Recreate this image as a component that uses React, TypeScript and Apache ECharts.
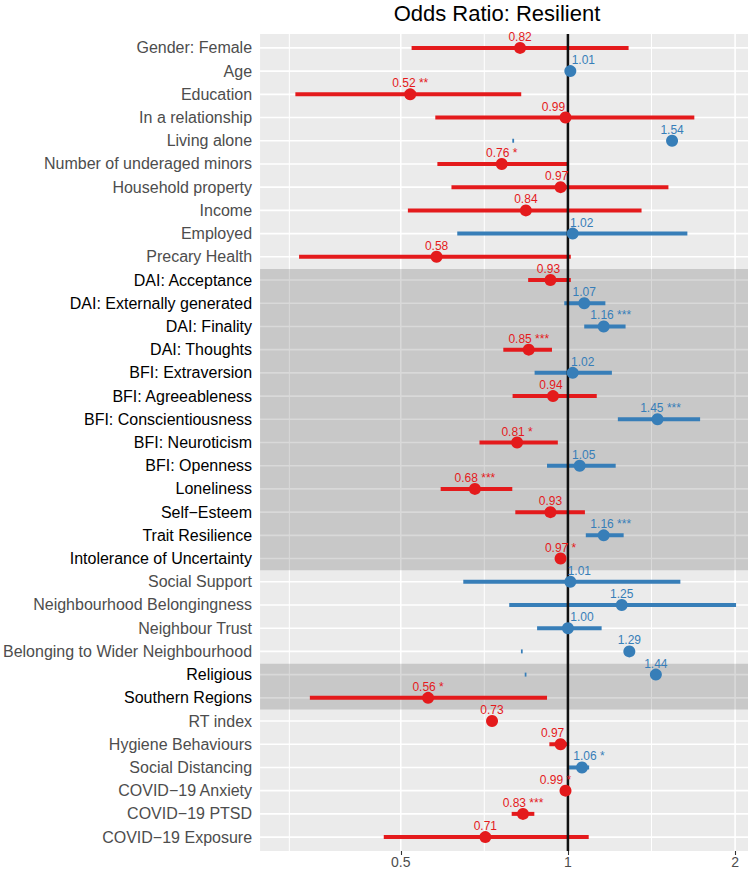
import React, { useEffect, useRef } from "react";
import * as echarts from "echarts";

// ---------------- data ----------------
const chartTitle = "Odds Ratio: Resilient";

const categories = [
  "Gender: Female",
  "Age",
  "Education",
  "In a relationship",
  "Living alone",
  "Number of underaged minors",
  "Household property",
  "Income",
  "Employed",
  "Precary Health",
  "DAI: Acceptance",
  "DAI: Externally generated",
  "DAI: Finality",
  "DAI: Thoughts",
  "BFI: Extraversion",
  "BFI: Agreeableness",
  "BFI: Conscientiousness",
  "BFI: Neuroticism",
  "BFI: Openness",
  "Loneliness",
  "Self\u2212Esteem",
  "Trait Resilience",
  "Intolerance of Uncertainty",
  "Social Support",
  "Neighbourhood Belongingness",
  "Neighbour Trust",
  "Belonging to Wider Neighbourhood",
  "Religious",
  "Southern Regions",
  "RT index",
  "Hygiene Behaviours",
  "Social Distancing",
  "COVID\u221219 Anxiety",
  "COVID\u221219 PTSD",
  "COVID\u221219 Exposure",
];

const estimates = [
  0.82, 1.01, 0.52, 0.99, 1.54, 0.76, 0.97, 0.84, 1.02, 0.58,
  0.93, 1.07, 1.16, 0.85, 1.02, 0.94, 1.45, 0.81, 1.05, 0.68,
  0.93, 1.16, 0.97, 1.01, 1.25, 1.0, 1.29, 1.44, 0.56, 0.73,
  0.97, 1.06, 0.99, 0.83, 0.71,
];

const ciLow = [
  0.523, 1.0, 0.323, 0.577, 0.794, 0.582, 0.617, 0.515, 0.632, 0.328,
  0.848, 0.985, 1.07, 0.765, 0.871, 0.795, 1.23, 0.693, 0.917, 0.59,
  0.804, 1.077, 0.95, 0.648, 0.784, 0.88, 0.823, 0.836, 0.343, 0.72,
  0.926, 1.005, 0.98, 0.792, 0.466,
];

const ciHigh = [
  1.286, 1.02, 0.824, 1.689, 0.8, 1.0, 1.517, 1.357, 1.641, 1.012,
  1.012, 1.168, 1.27, 0.936, 1.2, 1.127, 1.73, 0.959, 1.219, 0.794,
  1.073, 1.26, 0.99, 1.594, 2.008, 1.15, 0.829, 0.842, 0.917, 0.74,
  1.005, 1.092, 1.0, 0.87, 1.09,
];

const stars = [
  "", "", "**", "", "", "*", "", "", "", "",
  "", "", "***", "***", "", "", "***", "*", "", "***",
  "", "***", "*", "", "", "", "", "", "*", "",
  "", "*", "*", "***", "",
];

// highlighted row ranges (inclusive category indices)
const highlightBands = [
  [10, 22],
  [27, 28],
];

const xTickValues = [0.5, 1, 2];
const xMinorValues = [0.315, 0.707, 1.414];
const xRange = [0.279, 2.11];

// ---------------- styling ----------------
const RED = "#E41A1C";
const BLUE = "#377EB8";
const FONT = "'Liberation Sans', Arial, Helvetica, sans-serif";
// horizontal label shift in px (repelled from the reference line)
const labelNudge = [
  0, 13, 0, -12, 0, 0, -4, 0, 9, 0,
  -2, 0, 7, 0, 10, -2, 3, 0, 4, 0,
  0, 7, 0, 9, 0, 14, 0, 0, 0, 0,
  -8, 7, -10, 0, 0,
];

const log2 = (v: number) => Math.log(v) / Math.LN2;
const colorOf = (i: number) => (estimates[i] >= 1 ? BLUE : RED);
const isHighlighted = (i: number) =>
  highlightBands.some(([a, b]) => i >= a && i <= b);

export default function App() {
  const ref = useRef<HTMLDivElement>(null);

  useEffect(() => {
    if (!ref.current) return;
    const chart = echarts.init(ref.current, undefined, { renderer: "svg" });
    const n = categories.length;
    const pointData = categories.map((_, i) => [log2(estimates[i]), i]);

    const panelExtent = (api: any) => {
      const band = api.size([0, 1])[1];
      const top = api.coord([0, 0])[1] - 0.6 * band;
      const bottom = api.coord([0, n - 1])[1] + 0.6 * band;
      return { band, top, bottom };
    };

    const option: any = {
      animation: false,
      backgroundColor: "#ffffff",
      textStyle: { fontFamily: FONT },
      graphic: [
        {
          type: "text",
          x: 497,
          y: 13,
          z: 10,
          style: {
            text: chartTitle,
            fontSize: 22,
            fontFamily: FONT,
            fill: "#000",
            align: "center",
            verticalAlign: "middle",
          },
        },
      ],
      grid: { left: 258, right: 0, top: 36.3, height: 812.4, containLabel: false },
      xAxis: {
        type: "value",
        min: log2(xRange[0]),
        max: log2(xRange[1]),
        offset: 2.3,
        axisLine: { show: false },
        splitLine: { show: false },
        axisTick: {
          show: true,
          length: 4,
          customValues: xTickValues.map(log2),
          lineStyle: { color: "#333", width: 1.1 },
        },
        axisLabel: {
          show: true,
          customValues: xTickValues.map(log2),
          formatter: (v: number) => String(Math.round(Math.pow(2, v) * 100) / 100),
          color: "#4d4d4d",
          fontSize: 14,
          fontFamily: FONT,
          margin: 4,
        },
      },
      yAxis: {
        type: "category",
        data: categories,
        inverse: true,
        boundaryGap: true,
        axisLine: { show: false },
        splitLine: { show: false },
        axisTick: {
          show: true,
          length: 4,
          alignWithLabel: true,
          lineStyle: { color: "#333", width: 1.1 },
        },
        axisLabel: {
          margin: 8,
          interval: 0,
          formatter: (v: string, idx: number) =>
            isHighlighted(idx) ? `{d|${v}}` : `{n|${v}}`,
          rich: {
            d: { color: "#000", fontSize: 16, fontFamily: FONT },
            n: { color: "#4d4d4d", fontSize: 16, fontFamily: FONT },
          },
        },
      },
      series: [
        // panel background + grid lines
        {
          type: "custom",
          z: 1,
          silent: true,
          clip: false,
          data: [[0, 0]],
          encode: { x: 0, y: 1 },
          renderItem: (params: any, api: any) => {
            const cs = params.coordSys;
            const { top, bottom } = panelExtent(api);
            const children: any[] = [
              {
                type: "rect",
                shape: { x: cs.x, y: top, width: cs.width, height: bottom - top },
                style: { fill: "#EBEBEB" },
              },
            ];
            xMinorValues.forEach((v) => {
              const x = api.coord([log2(v), 0])[0];
              children.push({
                type: "line",
                shape: { x1: x, y1: top, x2: x, y2: bottom },
                style: { stroke: "#ffffff", lineWidth: 1 },
              });
            });
            xTickValues.forEach((v) => {
              const x = api.coord([log2(v), 0])[0];
              children.push({
                type: "line",
                shape: { x1: x, y1: top, x2: x, y2: bottom },
                style: { stroke: "#ffffff", lineWidth: 1.6 },
              });
            });
            categories.forEach((_, i) => {
              const y = api.coord([0, i])[1];
              children.push({
                type: "line",
                shape: { x1: cs.x, y1: y, x2: cs.x + cs.width, y2: y },
                style: { stroke: "#ffffff", lineWidth: 1.6 },
              });
            });
            return { type: "group", children };
          },
        },
        // highlight bands
        {
          type: "custom",
          z: 2,
          silent: true,
          clip: false,
          data: highlightBands.map((b) => [0, b[0], b[1]]),
          encode: { x: 0, y: 1 },
          renderItem: (params: any, api: any) => {
            const cs = params.coordSys;
            const b = highlightBands[params.dataIndex];
            const band = api.size([0, 1])[1];
            const y1 = api.coord([0, b[0]])[1] - 0.47 * band;
            const y2 = api.coord([0, b[1]])[1] + 0.5 * band;
            return {
              type: "rect",
              shape: { x: cs.x, y: y1, width: cs.width, height: y2 - y1 },
              style: { fill: "rgba(0,0,0,0.15)" },
            };
          },
        },
        // confidence intervals
        {
          type: "custom",
          z: 3,
          silent: true,
          data: pointData,
          encode: { x: 0, y: 1 },
          renderItem: (params: any, api: any) => {
            const i = params.dataIndex;
            const p1 = api.coord([log2(ciLow[i]), i]);
            const p2 = api.coord([log2(ciHigh[i]), i]);
            return {
              type: "line",
              shape: { x1: p1[0], y1: p1[1], x2: p2[0], y2: p2[1] },
              style: { stroke: colorOf(i), lineWidth: 4, lineCap: "butt" },
            };
          },
        },
        // reference line at OR = 1
        {
          type: "custom",
          z: 4,
          silent: true,
          clip: false,
          data: [[0, 0]],
          encode: { x: 0, y: 1 },
          renderItem: (params: any, api: any) => {
            const { top, bottom } = panelExtent(api);
            const x = api.coord([0, 0])[0];
            return {
              type: "line",
              shape: { x1: x, y1: top, x2: x, y2: bottom },
              style: { stroke: "#111", lineWidth: 2.5 },
            };
          },
        },
        // point estimates
        {
          type: "scatter",
          z: 5,
          silent: true,
          symbol: "circle",
          symbolSize: 12,
          data: pointData,
          itemStyle: {
            color: (p: any) => colorOf(p.dataIndex),
            opacity: 1,
          },
        },
        // value labels
        {
          type: "custom",
          z: 6,
          silent: true,
          clip: false,
          data: pointData,
          encode: { x: 0, y: 1 },
          renderItem: (params: any, api: any) => {
            const i = params.dataIndex;
            const p = api.coord([log2(estimates[i]), i]);
            const text = estimates[i].toFixed(2) + (stars[i] ? " " + stars[i] : "");
            return {
              type: "text",
              x: p[0] + labelNudge[i],
              y: p[1] - 11,
              style: {
                text,
                fill: colorOf(i),
                fontSize: 12,
                fontFamily: FONT,
                align: "center",
                verticalAlign: "middle",
              },
            };
          },
        },
      ],
    };

    chart.setOption(option);
    return () => chart.dispose();
  }, []);

  return (
    <div
      ref={ref}
      style={{ position: "absolute", left: 0, top: 0, width: 748, height: 875 }}
    />
  );
}
